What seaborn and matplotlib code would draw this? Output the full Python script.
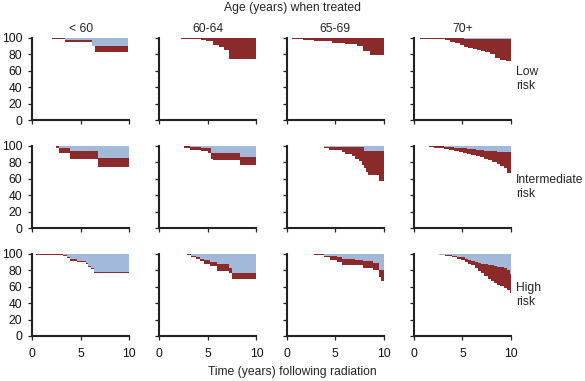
import seaborn as sns
import matplotlib.pyplot as plt

ages = ["< 60", "60-64", "65-69", "70+"]
risks = ["Low\nrisk", "Intermediate\nrisk", "High\nrisk"]

# per risk group, one list per age group:
# t = event times, blue = lower edge of blue band, red = lower edge of red band (percent)
t_low = [
    [2.1, 3.4, 6.2, 6.5, 9.9],
    [2.2, 4.3, 4.8, 5.5, 6.1, 6.7, 7.2, 10],
    [0.6, 1.7, 2.85, 4.7, 6.0, 7.2, 7.9, 8.6, 10],
    [0.6, 2.9, 3.2, 3.7, 4.2, 4.7, 5.2, 5.6, 6.1, 6.5, 6.9, 7.3, 7.8, 8.4, 8.9, 9.5, 10],
]
blue_low = [
    [100, 97, 90.5, 90.5, 90.5],
    [100, 99.8, 99.8, 99.8, 99.8, 99.8, 99.8, 99.8],
    [100, 99.7, 99.5, 99.5, 99.5, 99.5, 99.5, 99.5, 99.5],
    [100, 99.7, 99.5, 99.5, 99.5, 99.5, 99.3, 99.3, 99.3, 99.3, 99.2, 99.2, 99, 99, 99, 99, 99],
]
red_low = [
    [98.5, 95.5, 90, 83, 83],
    [99, 98, 96, 92, 88.5, 85.5, 75, 75],
    [99, 97.6, 96, 94.3, 92.7, 89.8, 84.5, 79.3, 79.3],
    [99, 98.3, 97, 95.5, 94, 91.5, 89, 88, 87, 85.5, 84, 82.5, 81, 76, 73, 72, 72],
]

t_int = [
    [2.5, 2.8, 3.9, 6.8, 10],
    [1.3, 2.5, 3.2, 4.3, 5.0, 5.3, 5.5, 8.3, 10],
    [0.5, 3.9, 4.4, 5.7, 6.0, 6.7, 7.0, 7.5, 7.8, 7.95, 8.15, 8.4, 9.55, 10],
    [0.4, 1.6, 2.1, 2.6, 3.1, 3.6, 4.1, 4.6, 5.1, 5.5, 5.9, 6.4, 6.8, 7.2, 7.6, 8.0, 8.3, 8.6, 8.9, 9.3, 9.6, 10],
]
blue_int = [
    [100, 98, 94.5, 85, 85],
    [100, 99.5, 98.5, 98, 97, 92, 92, 86.5, 86.5],
    [100, 99, 98.5, 98.5, 98.5, 98.5, 98.5, 98.5, 98.5, 93.5, 93.5, 93.5, 93.5, 93.5],
    [100, 100, 99.7, 99.5, 99, 98.5, 98, 97.5, 97, 96.5, 96, 95.5, 95, 94.5, 94, 93.5, 93.5, 93, 93, 92.5, 92.5, 92.5],
]
red_int = [
    [98, 91, 84, 74.5, 74.5],
    [99.5, 97, 95.5, 94, 91, 84.5, 83, 77, 77],
    [99.5, 97, 95, 93, 90.7, 88, 84, 82, 77, 73, 68.5, 64.5, 57, 57],
    [99.7, 99, 98, 97, 96, 95, 94, 93, 91, 90, 88.6, 87.5, 86, 84, 82.5, 81, 80, 78, 75, 73.5, 67.5, 67.5],
]

t_high = [
    [0.4, 3.2, 3.6, 3.9, 4.6, 5.6, 5.8, 6.1, 6.4, 10],
    [2.9, 3.3, 3.8, 4.2, 4.6, 5.2, 5.9, 7.2, 7.5, 10],
    [1.45, 2.85, 3.85, 4.5, 5.2, 5.7, 7.05, 7.9, 8.9, 9.56, 9.77, 10],
    [0.4, 1.6, 2.6, 3.2, 3.9, 4.4, 4.9, 5.3, 5.6, 5.9, 6.25, 6.6, 6.9, 7.25, 7.6, 7.9, 8.3, 8.6, 8.9, 9.3, 9.6, 9.85, 10],
]
blue_high = [
    [100, 99, 96, 93.3, 91.5, 89, 85, 82.5, 77.6, 77.6],
    [100, 98, 96, 93.5, 92.7, 90.2, 87.8, 82.5, 77.2, 77.2],
    [100, 99.5, 98, 97, 96, 94, 92.5, 91, 89.5, 80.5, 80, 80],
    [100, 99.8, 99, 98.3, 97.5, 96.8, 96, 94.5, 93, 92, 90.5, 89, 88, 87.3, 86.5, 86, 85, 84.5, 84, 82.5, 80, 76, 76],
]
red_high = [
    [98.5, 97.5, 94.7, 92, 90.2, 87.8, 83.7, 81.3, 76.4, 76.4],
    [98.8, 96.7, 94.3, 92, 87.8, 85.4, 79.7, 76.4, 69.5, 69.5],
    [99.5, 98.5, 96, 93, 90, 87, 86, 82.5, 81, 72.5, 67.5, 67.5],
    [99.7, 99.5, 98.5, 97.5, 96, 94.5, 92.5, 90, 88, 86, 83, 79.5, 76.5, 73, 70, 67, 64.5, 62.5, 61, 59, 56.5, 52, 52],
]

rows = [(t_low, blue_low, red_low), (t_int, blue_int, red_int), (t_high, blue_high, red_high)]

BLUE = "#a3b9d9"
RED = "#8b2a2a"
FS = 8.7

sns.set_style("ticks")
plt.rcParams['font.family'] = ['Liberation Sans', 'DejaVu Sans']

fig, axs = plt.subplots(3, 4, figsize=(5.85, 3.81), dpi=100)
fig.subplots_adjust(left=32 / 585, right=511 / 585, top=1 - 38 / 381, bottom=1 - 336 / 381,
                    wspace=0.31, hspace=0.317)

for i, (ts, blues, reds) in enumerate(rows):
    for j in range(4):
        ax = axs[i, j]
        t, a, b = ts[j], blues[j], reds[j]
        ax.fill_between(t, 100, a, step='post', color=BLUE, lw=0)
        ax.fill_between(t, a, b, step='post', color=RED, lw=0)
        ax.set_xlim(0, 10)
        ax.set_ylim(0, 100)
        ax.set_xticks([0, 5, 10])
        ax.set_yticks(range(0, 101, 20))
        sns.despine(ax=ax)
        for s in ['left', 'bottom']:
            ax.spines[s].set_linewidth(1.5)
            ax.spines[s].set_color('#222222')
        ax.tick_params(length=3, width=0.9, color='#222222', labelsize=FS, labelcolor='#111111')
        ax.tick_params(axis='y', pad=4)
        ax.tick_params(axis='x', pad=6)
        if j > 0:
            ax.tick_params(labelleft=False)
        if i < 2:
            ax.tick_params(labelbottom=False)
        if i == 0:
            ax.set_title(ages[j], fontsize=FS, pad=4)
        if j == 3:
            ax.text(1.055, 0.5, risks[i], transform=ax.transAxes, ha='left', va='center',
                    fontsize=FS, linespacing=1.3)

fig.text(0.5, 1 - 8 / 381, "Age (years) when treated", ha='center', va='center', fontsize=FS)
fig.text(0.5, 1 - 372 / 381, "Time (years) following radiation", ha='center', va='center', fontsize=FS)

plt.savefig("out.png", dpi=100)
